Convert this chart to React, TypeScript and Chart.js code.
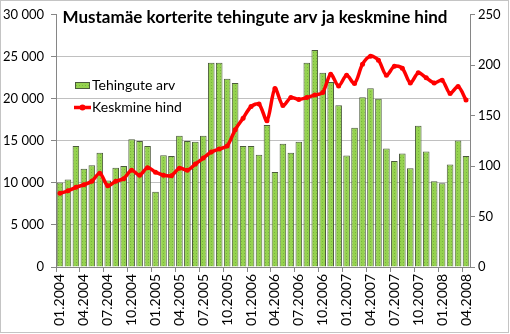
import React, { useEffect, useRef } from 'react';
import { Chart, registerables } from 'chart.js';

Chart.register(...registerables);

const TITLE = 'Mustamäe korterite tehingute arv ja keskmine hind';
const BAR_LABEL = 'Tehingute arv';
const LINE_LABEL = 'Keskmine hind';

const months = [
  '01.2004', '02.2004', '03.2004', '04.2004', '05.2004', '06.2004', '07.2004', '08.2004', '09.2004', '10.2004', '11.2004', '12.2004',
  '01.2005', '02.2005', '03.2005', '04.2005', '05.2005', '06.2005', '07.2005', '08.2005', '09.2005', '10.2005', '11.2005', '12.2005',
  '01.2006', '02.2006', '03.2006', '04.2006', '05.2006', '06.2006', '07.2006', '08.2006', '09.2006', '10.2006', '11.2006', '12.2006',
  '01.2007', '02.2007', '03.2007', '04.2007', '05.2007', '06.2007', '07.2007', '08.2007', '09.2007', '10.2007', '11.2007', '12.2007',
  '01.2008', '02.2008', '03.2008', '04.2008',
];

const dealCounts = [
  10050, 10400, 14400, 11700, 12100, 13600, 10300, 11800, 12000, 15200, 15000, 14400,
  8950, 13300, 13200, 15600, 15000, 14900, 15600, 24300, 24300, 22400, 21900, 14400,
  14400, 13350, 16900, 11300, 14650, 13600, 14900, 24300, 25800, 23100, 22000, 19250,
  13250, 16550, 20200, 21250, 20000, 14100, 12600, 13500, 11750, 16800, 13750, 10200,
  9950, 12200, 15050, 13200,
];

const avgPrice = [
  73, 75.5, 79, 81.5, 85, 93, 80.5, 85, 87.5, 96, 91, 98.5,
  94, 91, 90.5, 98, 96, 102, 108, 114, 117, 120, 136, 147.5,
  159, 161.5, 145, 177, 160, 168, 166, 168, 170.5, 173, 191, 179.5,
  190, 182, 201, 209, 205, 190, 199, 197, 182.5, 192.5, 187.5, 182.5,
  185, 172, 179, 165.5,
];

const leftMax = 30000;
const leftStep = 5000;
const rightMax = 250;
const rightStep = 50;

const FONT = 'Lato, "Open Sans", sans-serif';
const AXIS_GRAY = '#868686';
const GRID_GRAY = '#c0c0c0';

function fmtThousands(v: number): string {
  return String(v).replace(/\B(?=(\d{3})+(?!\d))/g, ' ');
}

export default function App() {
  const ref = useRef<HTMLCanvasElement | null>(null);

  useEffect(() => {
    const canvas = ref.current;
    if (!canvas) return;
    const ctx = canvas.getContext('2d')!;

    const pc = document.createElement('canvas');
    pc.width = 3;
    pc.height = 3;
    const p = pc.getContext('2d')!;
    p.fillStyle = '#95d24f';
    p.fillRect(0, 0, 3, 3);
    p.fillStyle = '#78b53c';
    p.fillRect(1, 1, 1, 1);
    const pattern = ctx.createPattern(pc, 'repeat')!;

    const overlay = {
      id: 'overlay',
      afterDraw(chart: any) {
        const c = chart.ctx as CanvasRenderingContext2D;
        c.save();
        // title
        c.font = `bold 17px ${FONT}`;
        c.fillStyle = '#000';
        c.textAlign = 'center';
        c.textBaseline = 'middle';
        c.fillText(TITLE, 255, 18);

        // legend
        const ds = chart.data.datasets;
        c.fillStyle = ds[1].backgroundColor;
        c.fillRect(75, 82, 15, 7);
        c.strokeStyle = ds[1].borderColor;
        c.lineWidth = 1;
        c.strokeRect(75.5, 82.5, 14, 6);
        c.font = `14px ${FONT}`;
        c.fillStyle = '#000';
        c.textAlign = 'left';
        c.fillText(BAR_LABEL, 92, 85.5);

        c.strokeStyle = ds[0].borderColor;
        c.lineWidth = 3.5;
        c.beginPath();
        c.moveTo(74, 107.5);
        c.lineTo(91, 107.5);
        c.stroke();
        c.fillStyle = ds[0].borderColor;
        c.beginPath();
        c.arc(82.5, 107.5, 3, 0, Math.PI * 2);
        c.fill();
        c.fillStyle = '#000';
        c.fillText(LINE_LABEL, 92, 107.5);

        // outer frame
        c.strokeStyle = '#c4c4c4';
        c.lineWidth = 1;
        c.strokeRect(0.5, 0.5, 508, 332);
        c.restore();
      },
    };

    const chart = new Chart(ctx, {
      type: 'bar',
      data: {
        labels: months,
        datasets: [
          {
            type: 'line',
            label: LINE_LABEL,
            data: avgPrice,
            yAxisID: 'y1',
            borderColor: '#ff0000',
            backgroundColor: '#ff0000',
            borderWidth: 3.5,
            pointRadius: 2.5,
            pointBorderWidth: 0,
            pointBackgroundColor: '#ff0000',
            tension: 0.3,
            order: 1,
          } as any,
          {
            type: 'bar',
            label: BAR_LABEL,
            data: dealCounts,
            yAxisID: 'y',
            backgroundColor: pattern,
            borderColor: '#4b5a3c',
            borderWidth: 1,
            barPercentage: 0.83,
            categoryPercentage: 1,
            order: 2,
          } as any,
        ],
      },
      options: {
        responsive: false,
        animation: false,
        layout: { padding: { top: 12, left: 0, right: 0, bottom: 0 } },
        plugins: {
          legend: { display: false },
          title: { display: false },
          tooltip: { enabled: false },
        },
        scales: {
          x: {
            type: 'category',
            offset: true,
            grid: {
              offset: true,
              drawOnChartArea: false,
              tickLength: 5,
              color: (c: any) => (typeof c.index === 'number' && c.index % 3 === 0 ? AXIS_GRAY : 'rgba(0,0,0,0)'),
            },
            border: { color: AXIS_GRAY },
            ticks: {
              autoSkip: false,
              minRotation: 90,
              maxRotation: 90,
              padding: 2,
              color: '#000',
              font: { family: FONT, size: 14 },
              callback: (_v: any, i: number) => (i % 3 === 0 ? months[i] : ''),
            },
            afterFit: (s: any) => {
              s.height = 67;
            },
          },
          y: {
            position: 'left',
            min: 0,
            max: leftMax,
            grid: {
              color: (c: any) => (c.tick && c.tick.value === leftMax ? 'rgba(0,0,0,0)' : GRID_GRAY),
              tickColor: AXIS_GRAY,
              tickLength: 5,
            },
            border: { color: AXIS_GRAY },
            ticks: {
              stepSize: leftStep,
              padding: 7,
              color: '#000',
              font: { family: FONT, size: 13 },
              callback: (v: any) => fmtThousands(Number(v)),
            },
            afterFit: (s: any) => {
              s.width = 56;
            },
          },
          y1: {
            position: 'right',
            min: 0,
            max: rightMax,
            grid: {
              drawOnChartArea: false,
              color: AXIS_GRAY,
              tickLength: 5,
            },
            border: { color: AXIS_GRAY },
            ticks: {
              stepSize: rightStep,
              padding: 3,
              color: '#000',
              font: { family: FONT, size: 13 },
            },
            afterFit: (s: any) => {
              s.width = 40;
            },
          },
        },
      },
      plugins: [overlay],
    });

    return () => {
      chart.destroy();
    };
  }, []);

  return (
    <div style={{ position: 'absolute', left: 0, top: 0, width: 510, height: 334, background: '#fff' }}>
      <canvas ref={ref} width={510} height={334} style={{ display: 'block' }} />
    </div>
  );
}
